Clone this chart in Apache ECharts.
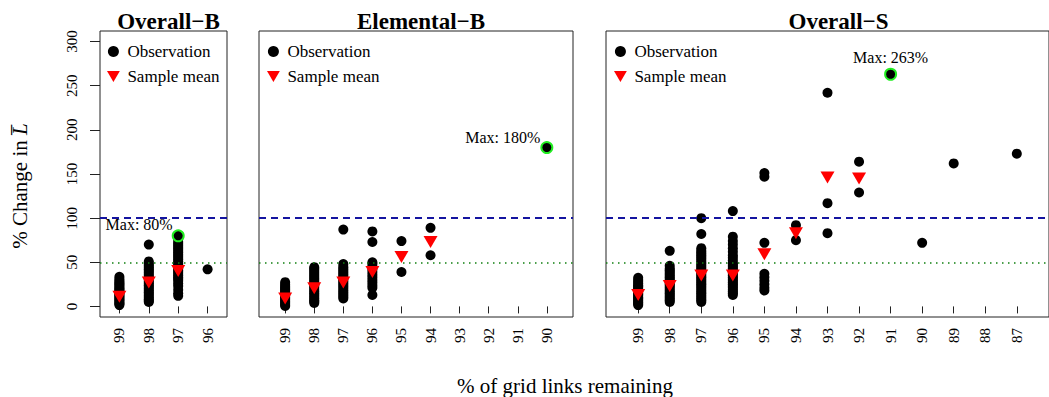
<!DOCTYPE html>
<html>
<head>
<meta charset="utf-8">
<title>% Change in L by grid links remaining</title>
<script src="https://cdn.jsdelivr.net/npm/echarts@6.0.0/dist/echarts.min.js"></script>
<style>
  html, body { margin: 0; padding: 0; background: #fff; }
  #chart { width: 1049px; height: 397px; }
</style>
</head>
<body>
<div id="chart"></div>
<script>
// ---- data ----
const panelTitles = ['Overall\u2212B', 'Elemental\u2212B', 'Overall\u2212S'];
const yTicks = [0, 50, 100, 150, 200, 250, 300];
const refLines = [100, 50];

// Overall-B
const overallBCats = ['99', '98', '97', '96'];
const overallBObs = [
  [1.5, 3, 4, 5.5, 7, 8, 9.5, 11, 12, 13.5, 15, 16, 17.5, 19, 20, 21.5, 23, 24.5, 26, 27.5, 29, 31, 33.5],
  [5, 6.5, 8, 10, 12, 14, 16, 18, 20, 22, 24, 26, 28, 30, 32, 34, 36, 38, 40, 42, 44, 46, 48, 51, 70],
  [12, 15, 19, 23, 26, 29, 31, 33, 35, 37, 39, 41, 43, 45, 47, 49, 51, 53, 55, 57, 59, 61, 63, 65, 67, 69, 71, 73, 76],
  [42]
];
const overallBMean = [11, 27, 40, null];
const overallBMax = ['97', 80];

// Elemental-B
const elementalBCats = ['99', '98', '97', '96', '95', '94', '93', '92', '91', '90'];
const elementalBObs = [
  [0.5, 2, 3.5, 5, 6.5, 8, 9.5, 11, 12.5, 14, 15.5, 17, 18.5, 20, 21.5, 23, 25, 27.5],
  [4, 5.5, 7, 9, 11, 13, 15, 17, 19, 21, 23, 25, 27, 29, 31, 33, 35, 37, 39, 41, 43, 44.5],
  [9, 11, 13, 15, 17, 19, 21, 23, 25, 27, 29, 31, 33, 35, 37, 39, 41, 43, 45, 48, 87],
  [13, 21, 24, 27, 30, 33, 36, 39, 42, 45, 48, 50, 73, 85],
  [39, 74],
  [58, 89],
  [], [], [],
  [180]
];
const elementalBMean = [9, 20.5, 27, 39, 56, 73, null, null, null, null];
const elementalBMax = ['90', 180];

// Overall-S
const overallSCats = ['99', '98', '97', '96', '95', '94', '93', '92', '91', '90', '89', '88', '87'];
const overallSObs = [
  [1.5, 3, 4.5, 6, 7.5, 9, 10.5, 12, 13.5, 15, 16.5, 18, 19.5, 21, 22.5, 24, 26, 28, 30, 32.5],
  [5, 7, 9, 11, 13, 15, 17, 19, 21, 23, 25, 27, 29, 31, 33, 35, 37, 39, 41, 43, 46, 63],
  [5, 7, 9, 11, 13, 15, 17, 19, 21, 23, 25, 27, 29, 31, 33, 35, 37, 39, 41, 43, 45, 47, 49, 51, 53, 55, 57, 59, 61, 63, 66, 82, 100],
  [13, 15, 17, 19, 21, 23, 25, 27, 29, 31, 33, 35, 37, 39, 41, 43, 45, 47, 49, 52, 55, 58, 62, 66, 70, 74, 79, 108],
  [18, 21, 25, 29, 33, 37, 72, 147, 151],
  [75, 92],
  [83, 117, 242],
  [129, 164],
  [263],
  [72],
  [162],
  [],
  [173]
];
const overallSMean = [13, 23, 35, 35, 59, 83, 146, 145, null, null, null, null, null];
const overallSMax = ['91', 263];

// ---- layout ----
const FONT = 'Liberation Serif';
const Y_MIN = -12, Y_MAX = 312;
const panels = [
  { cats: overallBCats, obs: overallBObs, mean: overallBMean, max: overallBMax,
    grid: { left: 100, top: 31, width: 127, height: 286 }, pad: 0.66,
    legendLeft: 102, maxLabel: { position: 'left', distance: 0, offset: [1, -11] } },
  { cats: elementalBCats, obs: elementalBObs, mean: elementalBMean, max: elementalBMax,
    grid: { left: 259, top: 31, width: 314, height: 286 }, pad: 0.9,
    legendLeft: 262, maxLabel: { position: 'left', distance: 0, offset: [0, -10] } },
  { cats: overallSCats, obs: overallSObs, mean: overallSMean, max: overallSMax,
    grid: { left: 606, top: 31, width: 455, height: 286 }, pad: 1.02,
    legendLeft: 609, maxLabel: { position: 'top', distance: 2 } }
];

const meanSymbol = 'path://M0,0 L14,0 L7,12 Z';

const grids = [], xAxes = [], yAxes = [], series = [], titles = [], legends = [];

panels.forEach((p, k) => {
  grids.push(Object.assign({ show: true, borderColor: '#222', borderWidth: 1, backgroundColor: 'transparent' }, p.grid));
  const positions = p.cats.map((c, i) => i + 1);
  xAxes.push({
    type: 'value', gridIndex: k,
    min: 1 - p.pad, max: p.cats.length + p.pad,
    axisLine: { show: false },
    splitLine: { show: false },
    axisTick: { show: true, length: 7, lineStyle: { color: '#222' }, customValues: positions },
    axisLabel: {
      customValues: positions, rotate: 90, margin: 11,
      fontFamily: FONT, fontSize: 15, color: '#000',
      formatter: v => p.cats[Math.round(v) - 1]
    }
  });
  yAxes.push({
    type: 'value', gridIndex: k, min: Y_MIN, max: Y_MAX,
    show: k === 0,
    splitLine: { show: false },
    axisLine: { show: false },
    axisTick: { show: true, length: 10, lineStyle: { color: '#222' }, customValues: yTicks },
    axisLabel: { customValues: yTicks, rotate: 90, margin: 21, fontFamily: FONT, fontSize: 15, color: '#000' },
    name: k === 0 ? '% Change in {i|L\u0305}' : '',
    nameLocation: 'middle', nameGap: 70, nameRotate: 90,
    nameTextStyle: { fontFamily: FONT, fontSize: 21, color: '#000', padding: [0, 24, 0, 0],
      rich: { i: { fontFamily: FONT, fontSize: 21, fontStyle: 'italic', color: '#000' } } }
  });

  const obsData = [];
  p.obs.forEach((vals, i) => vals.forEach(v => obsData.push([i + 1, v])));
  series.push({
    name: 'Observation', type: 'scatter', xAxisIndex: k, yAxisIndex: k,
    symbol: 'circle', symbolSize: 10, itemStyle: { color: '#000', opacity: 1 },
    data: obsData, z: 2,
    markLine: {
      silent: true, symbol: 'none', label: { show: false },
      data: [
        { yAxis: refLines[0], lineStyle: { color: '#1414a0', type: [7, 5], width: 2, opacity: 1 } },
        { yAxis: refLines[1], lineStyle: { color: '#108010', type: [1.5, 4.5], width: 1.6, opacity: 1 } }
      ]
    }
  });
  series.push({
    name: 'Sample mean', type: 'scatter', xAxisIndex: k, yAxisIndex: k,
    symbol: meanSymbol, symbolSize: [14, 12], itemStyle: { color: '#ff0000', opacity: 1 },
    data: p.mean.map((v, i) => [i + 1, v]).filter(d => d[1] !== null), z: 3
  });
  const maxIdx = p.cats.indexOf(p.max[0]) + 1;
  series.push({
    name: 'Max', type: 'scatter', xAxisIndex: k, yAxisIndex: k,
    symbol: 'circle', symbolSize: 11,
    itemStyle: { color: '#000', borderColor: '#22ee22', borderWidth: 2, opacity: 1 },
    label: Object.assign({ show: true, formatter: 'Max: ' + p.max[1] + '%',
      fontFamily: FONT, fontSize: 16, color: '#000' }, p.maxLabel),
    data: [[maxIdx, p.max[1]]], z: 4
  });

  titles.push({
    text: panelTitles[k], left: p.grid.left + p.grid.width / 2, top: 5, textAlign: 'center',
    textStyle: { fontFamily: FONT, fontSize: 23, fontWeight: 'bold', color: '#000' }
  });
  legends.push({
    left: p.legendLeft, top: 38, orient: 'vertical', itemGap: 8,
    itemWidth: 14, itemHeight: 11, selectedMode: false,
    textStyle: { fontFamily: FONT, fontSize: 17, color: '#000', lineHeight: 16, padding: [0, 0, 0, 2] },
    data: [{ name: 'Observation', icon: 'circle' }, { name: 'Sample mean' }]
  });
});

titles.push({
  text: '% of grid links remaining', left: 560, top: 370, textAlign: 'center',
  textStyle: { fontFamily: FONT, fontSize: 21, fontWeight: 'normal', color: '#000' }
});

const chart = echarts.init(document.getElementById('chart'), null, { renderer: 'svg' });
chart.setOption({
  animation: false,
  backgroundColor: '#fff',
  title: titles,
  legend: legends,
  grid: grids,
  xAxis: xAxes,
  yAxis: yAxes,
  series: series
});
</script>
</body>
</html>
